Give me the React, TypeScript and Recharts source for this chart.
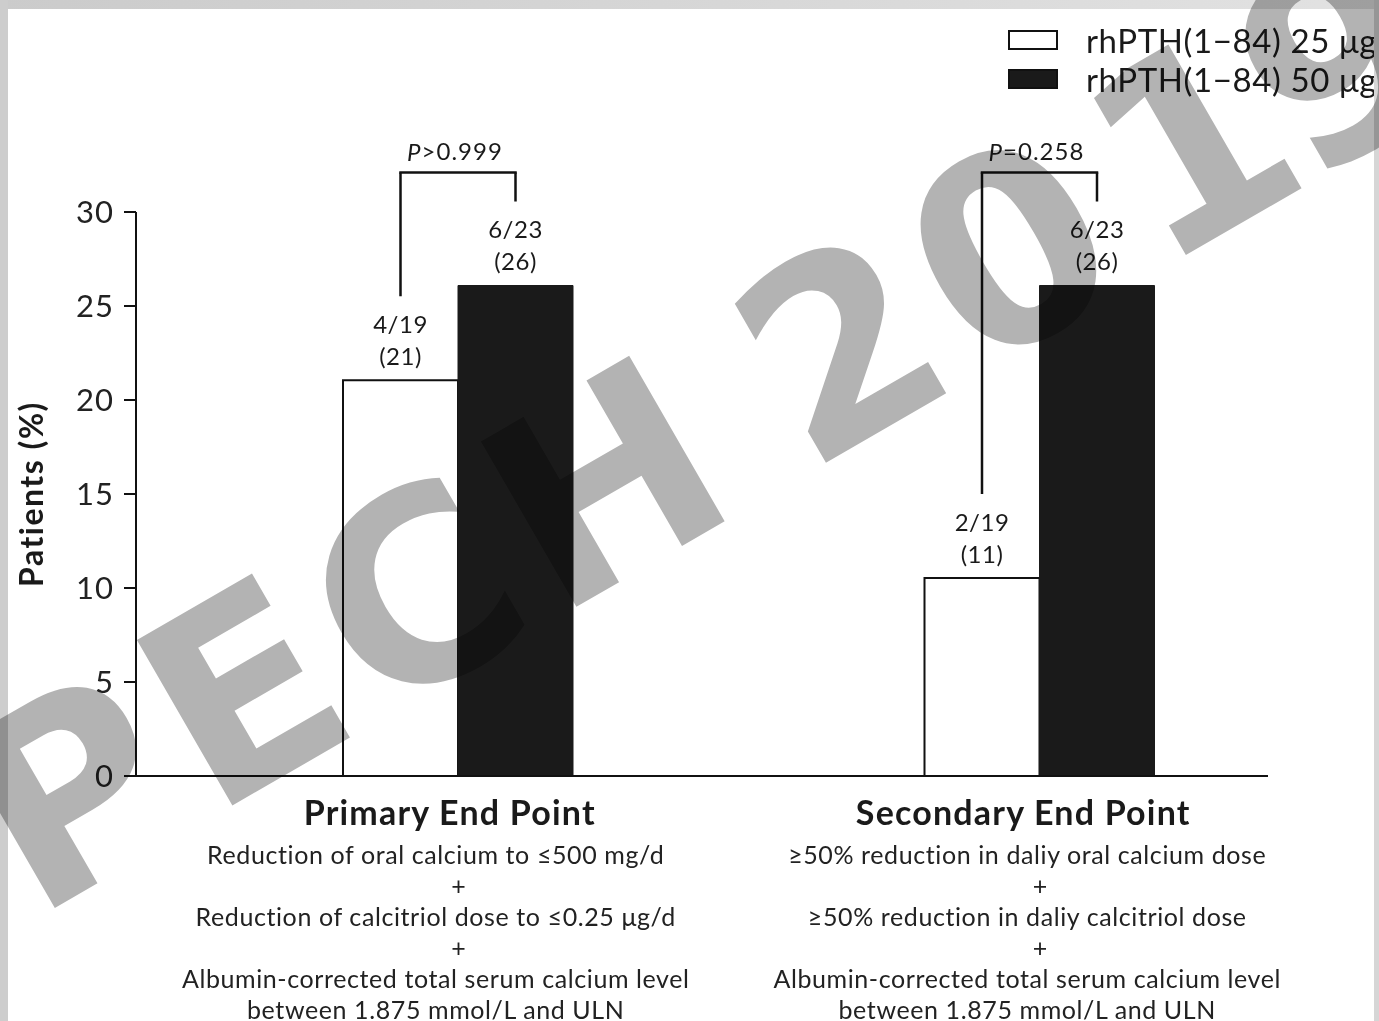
import React from "react";
import { BarChart, Bar, XAxis, YAxis, Legend } from "recharts";

const categories = ["Primary End Point", "Secondary End Point"];
const dose25Values = [21.05, 10.53];
const dose50Values = [26.09, 26.09];
const dose25Counts = ["4/19", "2/19"];
const dose25Pcts = ["(21)", "(11)"];
const dose50Counts = ["6/23", "6/23"];
const dose50Pcts = ["(26)", "(26)"];
const pValues = [">0.999", "=0.258"];
const seriesNames = ["rhPTH(1\u221284) 25 \u03bcg", "rhPTH(1\u221284) 50 \u03bcg"];
const yTicks = [0, 5, 10, 15, 20, 25, 30];
const criteria = [
  [
    "Reduction of oral calcium to \u2264500 mg/d",
    "+",
    "Reduction of calcitriol dose to \u22640.25 \u03bcg/d",
    "+",
    "Albumin-corrected total serum calcium level",
    "between 1.875 mmol/L and ULN",
  ],
  [
    "\u226550% reduction in daliy oral calcium dose",
    "+",
    "\u226550% reduction in daliy calcitriol dose",
    "+",
    "Albumin-corrected total serum calcium level",
    "between 1.875 mmol/L and ULN",
  ],
];

// bracket height, in % units (sits above the 30% axis top)
const BRACKET_LEVEL = 32.1;
// gap left between a bar top and the bracket leg, px
const LEG_CLEAR = 84;
// the caption blocks sit a little left of the bar pairs in the original
const titleShift = [-8, -16];
const lineShift = [-22, -12];

const FONT = "Lato, 'Open Sans', sans-serif";
const INK = "#1a1a1a";

const data = categories.map((category, i) => ({
  category,
  dose25: dose25Values[i],
  dose50: dose50Values[i],
}));

function barLabels(values: number[], counts: string[], pcts: string[], low: boolean) {
  return (props: any) => {
    const vb = props.viewBox || props;
    const { x, y, width, height } = vb;
    const i = props.index;
    const cx = x + width / 2;
    const base = y + height;
    const ppu = height / values[i];
    const bracketY = base - ppu * BRACKET_LEVEL;
    return (
      <g>
        <text x={cx} y={y - 57} textAnchor="middle" dominantBaseline="central"
          fontFamily={FONT} fontSize={24} letterSpacing={0.5} fill={INK}>{counts[i]}</text>
        <text x={cx} y={y - 25} textAnchor="middle" dominantBaseline="central"
          fontFamily={FONT} fontSize={24} letterSpacing={0.5} fill={INK}>{pcts[i]}</text>
        <line x1={cx} x2={cx} y1={y - LEG_CLEAR} y2={bracketY} stroke="#111" strokeWidth={2.5} />
        {low && (
          <>
            <line x1={cx - 1.25} x2={cx + width + 1.25} y1={bracketY} y2={bracketY} stroke="#111" strokeWidth={2.5} />
            <text x={x + width - 3} y={bracketY - 22} textAnchor="middle" dominantBaseline="central"
              fontFamily={FONT} fontSize={24} letterSpacing={1} fill={INK}>
              <tspan fontStyle="italic">P</tspan>{pValues[i]}
            </text>
          </>
        )}
      </g>
    );
  };
}

function CategoryTick(props: any) {
  const { x, y, payload } = props;
  const i = categories.indexOf(payload.value);
  const lines = criteria[i] || [];
  return (
    <g>
      <text x={x + titleShift[i]} y={y + 49} textAnchor="middle" fontFamily={FONT} fontSize={34}
        letterSpacing={1.2} fontWeight={700} fill={INK}>{payload.value}</text>
      {lines.map((t, k) => (
        <text key={k} x={t === "+" ? x + 1 : x + lineShift[i]} y={y + 88 + 31 * k} textAnchor="middle"
          fontFamily={FONT} fontSize={25} letterSpacing={0.6} fill="#222">{t}</text>
      ))}
    </g>
  );
}

function YTitle(props: any) {
  const vb = props.viewBox;
  const cx = vb.x + 14;
  const cy = vb.y + vb.height / 2;
  return (
    <text x={cx} y={cy} transform={`rotate(-90, ${cx}, ${cy})`} textAnchor="middle"
      dominantBaseline="central" fontFamily={FONT} fontSize={32} letterSpacing={1.5}
      fontWeight={700} fill={INK}>
      Patients (%)
    </text>
  );
}

function LegendBox(props: any) {
  const payload = props.payload || [];
  return (
    <div style={{ fontFamily: FONT, fontSize: 33, letterSpacing: 0.6, color: INK }}>
      {payload.map((entry: any, i: number) => (
        <div key={i} style={{ display: "flex", alignItems: "center", height: 39, whiteSpace: "nowrap" }}>
          <span style={{
            display: "inline-block", boxSizing: "border-box", width: 50, height: 20,
            border: "2px solid #111", background: entry.color, marginRight: 28,
          }} />
          <span>{entry.value}</span>
        </div>
      ))}
    </div>
  );
}

export default function App() {
  return (
    <div style={{
      position: "absolute", left: 0, top: 0, width: 1379, height: 1021,
      overflow: "hidden", background: "#fff",
    }}>
      <BarChart width={1379} height={1021} data={data} barGap={0}
        margin={{ top: 212, right: 111, bottom: 0, left: 16 }}>
        <XAxis dataKey="category" height={245} tickLine={false} tickSize={0} tickMargin={0}
          axisLine={{ stroke: "#111", strokeWidth: 2 }} padding={{ left: 31, right: -62 }}
          tick={<CategoryTick />} interval={0} />
        <YAxis domain={[0, 30]} ticks={yTicks} interval={0} width={120} tickSize={12} tickMargin={10}
          axisLine={{ stroke: "#111", strokeWidth: 2 }} tickLine={{ stroke: "#111", strokeWidth: 2 }}
          tick={{ fontFamily: FONT, fontSize: 31, letterSpacing: 1, fill: "#222" }}
          label={<YTitle />} />
        <Legend layout="vertical" align="center" verticalAlign="middle" content={<LegendBox />}
          wrapperStyle={{ top: 20, left: 1008, width: 420, right: "auto", bottom: "auto" }} />
        <Bar dataKey="dose25" name={seriesNames[0]} fill="#ffffff" stroke="#111" strokeWidth={2}
          barSize={115} isAnimationActive={false}
          label={barLabels(dose25Values, dose25Counts, dose25Pcts, true)} />
        <Bar dataKey="dose50" name={seriesNames[1]} fill="#1a1a1a" stroke="#1a1a1a" strokeWidth={1}
          barSize={115} isAnimationActive={false}
          label={barLabels(dose50Values, dose50Counts, dose50Pcts, false)} />
      </BarChart>
      <div style={{ position: "absolute", left: 0, top: 0, width: 1379, height: 9,
        background: "linear-gradient(90deg, #cbcbcb, #e2e2e2)" }} />
      <div style={{ position: "absolute", left: 0, top: 0, width: 8, height: 1021, background: "#cdcdcd" }} />
      <div style={{ position: "absolute", left: 1374, top: 0, width: 5, height: 1021, background: "#d6d6d6" }} />
      <svg width={1379} height={1021} style={{
        position: "absolute", left: 0, top: 0, pointerEvents: "none", mixBlendMode: "multiply",
      }}>
        <text x={34} y={920} transform="rotate(-30, 34, 920)" fontFamily="'DejaVu Sans', sans-serif"
          fontWeight={700} fontSize={262} letterSpacing={13} fill="#b3b3b3">
          <tspan>PECH</tspan>
          <tspan dx={-45}> 20</tspan>
          <tspan dx={15}>1</tspan>
          <tspan dx={-25}>9</tspan>
        </text>
      </svg>
    </div>
  );
}
